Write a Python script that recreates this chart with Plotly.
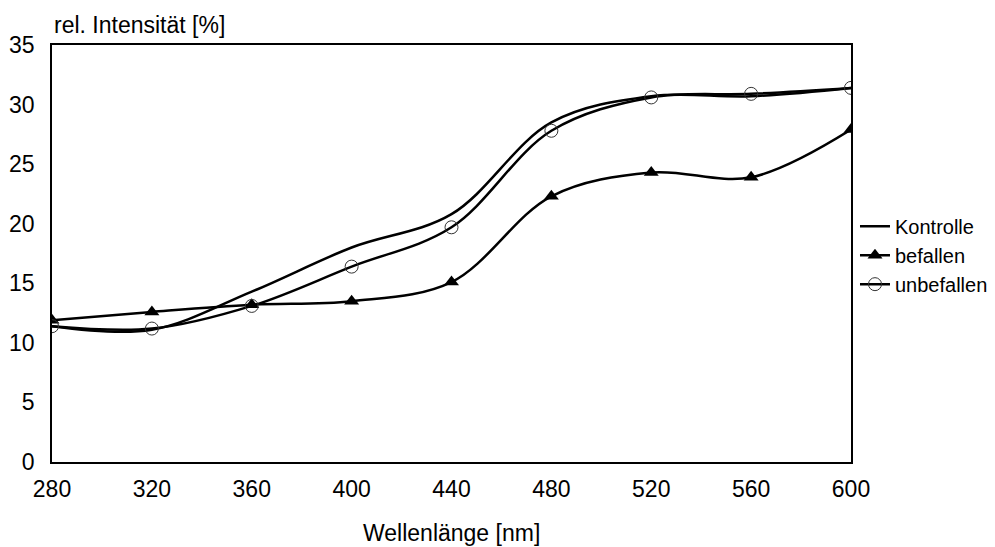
import plotly.graph_objects as go

# Wavelengths (nm) and relative intensities (%)
wavelength = [280, 320, 360, 400, 440, 480, 520, 560, 600]
kontrolle = [11.4, 11.1, 14.3, 18.0, 20.8, 28.5, 30.7, 30.7, 31.4]
befallen = [11.9, 12.6, 13.2, 13.5, 15.1, 22.3, 24.3, 23.9, 27.9]
unbefallen = [11.4, 11.2, 13.1, 16.4, 19.7, 27.8, 30.6, 30.9, 31.4]

x_ticks = [280, 320, 360, 400, 440, 480, 520, 560, 600]
y_ticks = [0, 5, 10, 15, 20, 25, 30, 35]

FONT = "Liberation Sans, Arial, sans-serif"

fig = go.Figure()
fig.add_trace(go.Scatter(
    x=wavelength, y=kontrolle, name="Kontrolle", mode="lines",
    line=dict(color="black", width=2.5, shape="spline", smoothing=1.0),
))
fig.add_trace(go.Scatter(
    x=wavelength, y=befallen, name="befallen", mode="lines+markers",
    line=dict(color="black", width=2.5, shape="spline", smoothing=1.0),
    marker=dict(symbol="triangle-up", size=13, color="black"),
))
fig.add_trace(go.Scatter(
    x=wavelength, y=unbefallen, name="unbefallen", mode="lines+markers",
    line=dict(color="black", width=2.5, shape="spline", smoothing=1.0),
    marker=dict(symbol="circle", size=13, color="rgba(0,0,0,0)",
                line=dict(color="#333333", width=1)),
))

fig.update_layout(
    width=995, height=547,
    margin=dict(l=52, r=144, t=45, b=85, autoexpand=False),
    paper_bgcolor="white", plot_bgcolor="white",
    font=dict(family=FONT, color="black"),
    showlegend=True,
    legend=dict(
        x=1.005, xanchor="left", y=0.496, yanchor="middle",
        font=dict(size=20, family=FONT), itemwidth=30,
        tracegroupgap=0, bgcolor="rgba(0,0,0,0)",
    ),
    annotations=[
        dict(text="rel. Intensität [%]", xref="paper", yref="paper",
             x=0.0, y=1.0, xanchor="left", yanchor="bottom", yshift=5,
             showarrow=False, font=dict(size=23, family=FONT)),
        dict(text="Wellenlänge [nm]", xref="paper", yref="paper",
             x=0.5, y=0.0, xanchor="center", yanchor="top", yshift=-56,
             showarrow=False, font=dict(size=23, family=FONT)),
    ],
)
fig.update_xaxes(
    range=[280, 600], tickvals=x_ticks, ticks="", showgrid=False, zeroline=False,
    showline=True, linecolor="black", linewidth=1.5, mirror=True,
    tickfont=dict(size=23, family=FONT), ticklabelstandoff=6,
)
fig.update_yaxes(
    range=[0, 35], tickvals=y_ticks, ticks="", showgrid=False, zeroline=False,
    showline=True, linecolor="black", linewidth=1.5, mirror=True,
    tickfont=dict(size=23, family=FONT), ticklabelstandoff=11,
)

fig.write_html("out.html")
